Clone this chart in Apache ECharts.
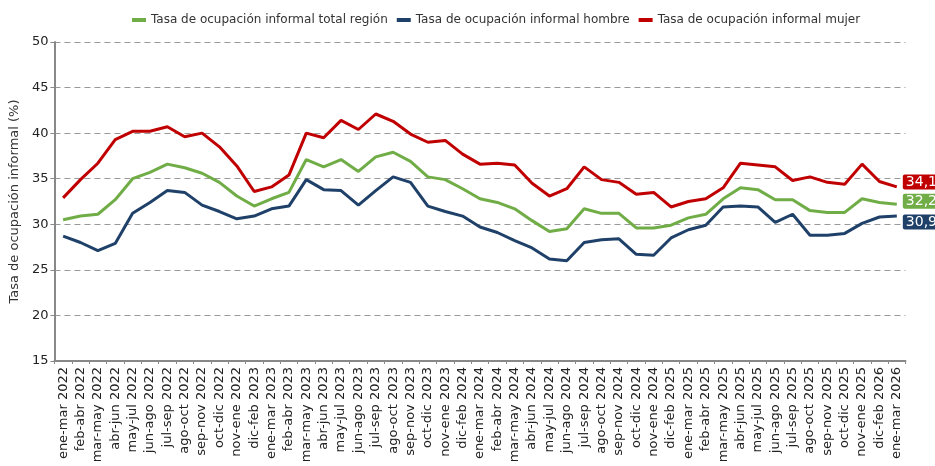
<!DOCTYPE html>
<html>
<head>
<meta charset="utf-8">
<script src="https://cdn.jsdelivr.net/npm/echarts@6/dist/echarts.min.js"></script>
<style>
  html, body { margin: 0; padding: 0; background: #fff; }
  #chart { width: 935px; height: 466px; }
</style>
</head>
<body>
<div id="chart"></div>
<script>
// trimestres móviles
const categories = [
  'ene-mar 2022', 'feb-abr 2022', 'mar-may 2022', 'abr-jun 2022', 'may-jul 2022', 'jun-ago 2022',
  'jul-sep 2022', 'ago-oct 2022', 'sep-nov 2022', 'oct-dic 2022', 'nov-ene 2022', 'dic-feb 2023',
  'ene-mar 2023', 'feb-abr 2023', 'mar-may 2023', 'abr-jun 2023', 'may-jul 2023', 'jun-ago 2023',
  'jul-sep 2023', 'ago-oct 2023', 'sep-nov 2023', 'oct-dic 2023', 'nov-ene 2023', 'dic-feb 2024',
  'ene-mar 2024', 'feb-abr 2024', 'mar-may 2024', 'abr-jun 2024', 'may-jul 2024', 'jun-ago 2024',
  'jul-sep 2024', 'ago-oct 2024', 'sep-nov 2024', 'oct-dic 2024', 'nov-ene 2024', 'dic-feb 2025',
  'ene-mar 2025', 'feb-abr 2025', 'mar-may 2025', 'abr-jun 2025', 'may-jul 2025', 'jun-ago 2025',
  'jul-sep 2025', 'ago-oct 2025', 'sep-nov 2025', 'oct-dic 2025', 'nov-ene 2025', 'dic-feb 2026',
  'ene-mar 2026'
]

const totalRegion = [
  30.5, 30.9, 31.1, 32.7, 35.0, 35.7, 36.6, 36.2, 35.6, 34.6, 33.1, 32.0,
  32.8, 33.5, 37.1, 36.3, 37.1, 35.8, 37.4, 37.9, 36.9, 35.2, 34.9, 33.9,
  32.8, 32.4, 31.7, 30.4, 29.2, 29.5, 31.7, 31.2, 31.2, 29.6, 29.6, 29.9,
  30.7, 31.1, 32.8, 34.0, 33.8, 32.7, 32.7, 31.5, 31.3, 31.3, 32.8, 32.4,
  32.2
]

const hombre = [
  28.7, 28.0, 27.1, 27.9, 31.2, 32.4, 33.7, 33.5, 32.1, 31.4, 30.6, 30.9,
  31.7, 32.0, 34.9, 33.8, 33.7, 32.1, 33.7, 35.2, 34.6, 32.0, 31.4, 30.9,
  29.7, 29.1, 28.2, 27.4, 26.2, 26.0, 28.0, 28.3, 28.4, 26.7, 26.6, 28.5,
  29.4, 29.9, 31.9, 32.0, 31.9, 30.2, 31.1, 28.8, 28.8, 29.0, 30.1, 30.8,
  30.9
]

const mujer = [
  32.9, 34.9, 36.7, 39.3, 40.2, 40.2, 40.7, 39.6, 40.0, 38.5, 36.4, 33.6,
  34.1, 35.4, 40.0, 39.5, 41.4, 40.4, 42.1, 41.3, 39.9, 39.0, 39.2, 37.7,
  36.6, 36.7, 36.5, 34.5, 33.1, 33.9, 36.3, 34.9, 34.6, 33.3, 33.5, 31.9,
  32.5, 32.8, 34.0, 36.7, 36.5, 36.3, 34.8, 35.2, 34.6, 34.4, 36.6, 34.7,
  34.1
]

const seriesNames = [
  'Tasa de ocupación informal total región',
  'Tasa de ocupación informal hombre',
  'Tasa de ocupación informal mujer'
]

const colors = ['#70ad47', '#1f4169', '#c00000']
const fontFamily = 'DejaVu Sans'

const chart = echarts.init(document.getElementById('chart'))

const makeSeries = (name, data, color, labelOffset) => ({
  name,
  type: 'line',
  data,
  symbol: 'none',
  lineStyle: { width: 3, color },
  itemStyle: { color },
  endLabel: {
    show: true,
    formatter: (p) => p.value.toFixed(1).replace('.', ','),
    color: '#fff',
    backgroundColor: color,
    borderRadius: 2,
    padding: [1, 4, 0, 3],
    fontSize: 14,
    fontFamily,
    distance: 6,
    offset: labelOffset,
  },
})

chart.setOption({
  animation: false,
  color: colors,
  textStyle: { fontFamily },
  legend: {
    top: 9,
    left: 127,
    itemWidth: 14,
    itemHeight: 4,
    itemGap: 9,
    icon: 'rect',
    textStyle: { fontSize: 12, color: '#333', fontFamily },
    data: seriesNames,
  },
  grid: {
    left: 46,
    right: 29.5,
    top: 42,
    bottom: 105,
  },
  xAxis: {
    type: 'category',
    data: categories,
    boundaryGap: true,
    axisLine: { lineStyle: { color: '#888', width: 2 } },
    axisTick: { show: true, length: 3, lineStyle: { color: '#888' } },
    axisLabel: {
      interval: 0,
      rotate: 90,
      fontSize: 13,
      color: '#222',
      margin: 6,
      fontFamily,
    },
  },
  yAxis: {
    type: 'value',
    min: 15,
    max: 50,
    interval: 5,
    name: 'Tasa de ocupación informal (%)',
    nameLocation: 'middle',
    nameGap: 30,
    nameTextStyle: { fontSize: 13, color: '#333', fontFamily },
    axisLine: { show: true, lineStyle: { color: '#888', width: 2 } },
    axisTick: { show: true, length: 4, lineStyle: { color: '#888' } },
    axisLabel: { fontSize: 13, color: '#222', margin: 6, fontFamily },
    splitLine: {
      lineStyle: { color: '#999', type: [6, 4], width: 1 },
    },
  },
  series: [
    makeSeries(seriesNames[0], totalRegion, colors[0], [0, -3]),
    makeSeries(seriesNames[1], hombre, colors[1], [0, 6]),
    makeSeries(seriesNames[2], mujer, colors[2], [0, -5]),
  ],
})
</script>
</body>
</html>
